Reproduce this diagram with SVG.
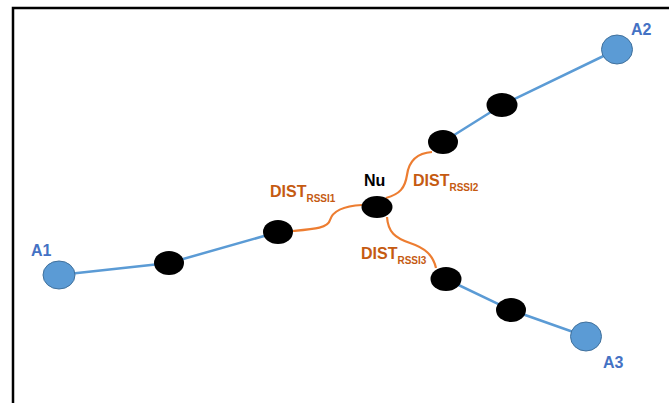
<svg xmlns="http://www.w3.org/2000/svg" width="669" height="403" viewBox="0 0 669 403">
<style>
.frame{fill:none;stroke:#000;stroke-width:2.5}
.anchor{fill:#5B9BD5;stroke:#41719C;stroke-width:1}
.dot{fill:#000}
.blue{fill:none;stroke:#5B9BD5;stroke-width:2.5}
.orange{fill:none;stroke:#ED7D31;stroke-width:2.2}
.lbl{font-family:"Liberation Sans",Arial,sans-serif;font-weight:bold}
.alab{fill:#4472C4;font-size:16px}
.dist{fill:#C55A11;font-size:16px}
.sub{font-size:10px}
.nu{fill:#000;font-size:16px}
</style>
<rect width="669" height="403" fill="#fff"/>
<rect class="frame" x="13" y="8" width="680" height="420"/>
<g id="connectors">
<polyline class="blue" points="59,275 169,263 278,232"/>
<polyline class="blue" points="617,49.5 502,105 443,142"/>
<polyline class="blue" points="446,279 511,310 586,336.5"/>
<path class="orange" d="M293,231 C315,229 328,228 330,220 C333,210 345,206 362,205"/>
<path class="orange" d="M386,198 C400,194 405,188 407,175 C409,160 418,153 432,152"/>
<path class="orange" d="M387,217 C388,232 395,238 410,243 C425,248 433,255 436,268"/>
</g>
<g id="A1"><ellipse class="anchor" cx="59" cy="275" rx="16" ry="14"/><text class="lbl alab" x="31" y="256">A1</text></g>
<g id="A2"><ellipse class="anchor" cx="617" cy="49.5" rx="15.5" ry="14.5"/><text class="lbl alab" x="631" y="35">A2</text></g>
<g id="A3"><ellipse class="anchor" cx="586" cy="336.5" rx="15.5" ry="14.5"/><text class="lbl alab" x="603" y="368">A3</text></g>
<g id="n1"><ellipse class="dot" cx="169" cy="263" rx="15" ry="12"/></g>
<g id="n2"><ellipse class="dot" cx="278" cy="232" rx="15" ry="12"/></g>
<g id="Nu"><ellipse class="dot" cx="377" cy="207" rx="15.5" ry="11"/><text class="lbl nu" x="364" y="186">Nu</text></g>
<g id="n3"><ellipse class="dot" cx="443" cy="142" rx="15" ry="12"/></g>
<g id="n4"><ellipse class="dot" cx="502" cy="105" rx="15.5" ry="12"/></g>
<g id="n5"><ellipse class="dot" cx="446" cy="279" rx="15.5" ry="12"/></g>
<g id="n6"><ellipse class="dot" cx="511" cy="310" rx="15" ry="12"/></g>
<g id="labels">
<text class="lbl dist" x="270" y="197">DIST<tspan class="sub" dy="5">RSSI1</tspan></text>
<text class="lbl dist" x="413" y="186">DIST<tspan class="sub" dy="5">RSSI2</tspan></text>
<text class="lbl dist" x="361" y="259">DIST<tspan class="sub" dy="5">RSSI3</tspan></text>
</g>
</svg>
